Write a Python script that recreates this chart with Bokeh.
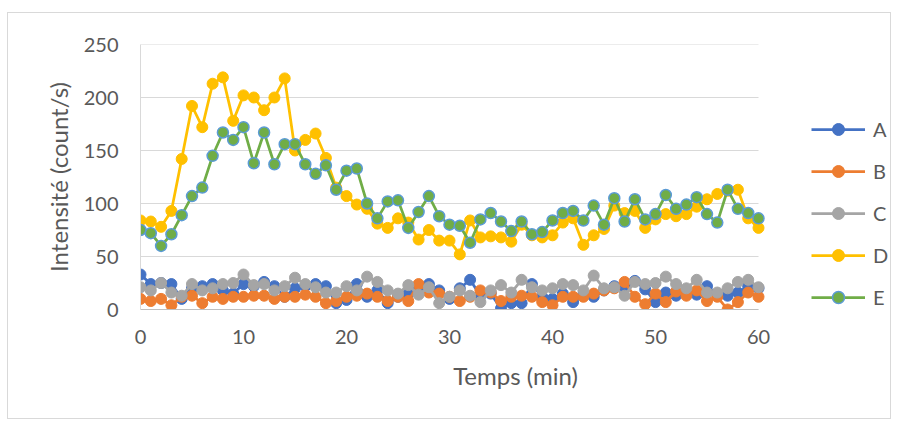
from bokeh.plotting import figure
from bokeh.models import Range1d, Legend, LegendItem, FixedTicker
from bokeh.embed import file_html
from bokeh.resources import INLINE

minutes = list(range(0, 61))

A = [33, 24, 25, 24, 10, 20, 22, 24, 18, 15, 24, 22, 26, 22, 12, 20, 22, 24, 22, 6,
     9, 24, 12, 18, 6, 12, 15, 20, 24, 18, 10, 20, 28, 13, 15, 1, 6, 6, 24, 12,
     10, 15, 7, 14, 12, 18, 22, 20, 27, 19, 7, 16, 13, 15, 14, 22, 14, 13, 16, 22, 20]
B = [10, 8, 10, 4, 12, 13, 6, 12, 10, 12, 12, 13, 13, 10, 12, 12, 14, 12, 6, 8,
     12, 13, 15, 12, 8, 12, 8, 24, 16, 15, 12, 8, 12, 18, 16, 8, 12, 13, 12, 7,
     4, 12, 12, 12, 15, 18, 20, 26, 12, 5, 15, 7, 17, 13, 18, 8, 12, 0, 7, 16, 12]
C = [21, 18, 25, 16, 13, 24, 18, 20, 24, 25, 33, 23, 24, 18, 22, 30, 24, 21, 16, 16,
     22, 18, 31, 26, 18, 15, 23, 14, 21, 6, 12, 18, 13, 7, 18, 23, 16, 28, 21, 18,
     20, 24, 23, 18, 32, 20, 21, 13, 26, 24, 25, 31, 24, 20, 28, 16, 16, 20, 26, 28, 21]
D = [84, 83, 78, 93, 142, 192, 172, 213, 219, 178, 202, 200, 188, 200, 218, 150, 160, 166, 143, 115,
     107, 99, 95, 81, 77, 86, 82, 66, 75, 65, 65, 52, 84, 68, 69, 68, 64, 80, 70, 68,
     70, 82, 86, 61, 70, 76, 98, 91, 93, 77, 85, 90, 88, 90, 97, 104, 109, 112, 113, 86, 77]
E = [75, 72, 60, 71, 89, 107, 115, 145, 167, 160, 172, 138, 167, 137, 156, 156, 137, 128, 136, 113,
     131, 133, 100, 86, 102, 103, 77, 92, 107, 88, 80, 79, 63, 85, 91, 83, 74, 83, 71, 73,
     84, 91, 93, 84, 98, 80, 105, 83, 104, 85, 90, 108, 95, 99, 106, 90, 82, 113, 95, 91, 86]

series_names = ["A", "B", "C", "D", "E"]
series_values = [A, B, C, D, E]
line_colors = ["#4472C4", "#ED7D31", "#A5A5A5", "#FFC000", "#70AD47"]
marker_lines = ["#4472C4", "#ED7D31", "#A5A5A5", "#FFC000", "#5B9BD5"]

x_ticks = [0, 10, 20, 30, 40, 50, 60]
y_ticks = [0, 50, 100, 150, 200, 250]

FONT = "Lato"
TXT = "#595959"

# frame extends to the right to host the legend; plot area itself spans 0..60
x_end = 60 * 750 / 618.0

p = figure(width=882, height=405, output_backend="svg", toolbar_location=None,
           x_range=Range1d(0, x_end), y_range=Range1d(0, 250),
           min_border_left=132, min_border_right=0, min_border_top=31, min_border_bottom=109,
           margin=(13, 7, 3, 8))
p.styles = {"outline": "1px solid #D9D9D9"}
p.outline_line_color = None
p.background_fill_color = "white"
p.border_fill_color = "white"

p.xgrid.visible = False
p.ygrid.visible = False
p.segment(x0=[x_ticks[0]] * len(y_ticks), x1=[x_ticks[-1]] * len(y_ticks),
          y0=y_ticks, y1=y_ticks, line_color="#D9D9D9", line_width=1)

p.xaxis.ticker = FixedTicker(ticks=x_ticks)
p.yaxis.ticker = FixedTicker(ticks=y_ticks)
p.xaxis.bounds = (x_ticks[0], x_ticks[-1])
for ax in (p.xaxis[0], p.yaxis[0]):
    ax.major_tick_line_color = None
    ax.minor_tick_line_color = None
    ax.major_tick_out = 0
    ax.major_tick_in = 0
    ax.major_label_text_font = FONT
    ax.major_label_text_font_size = "20px"
    ax.major_label_text_color = TXT
    ax.axis_label_text_font = FONT
    ax.axis_label_text_font_size = "24px"
    ax.axis_label_text_font_style = "normal"
    ax.axis_label_text_color = TXT
p.xaxis.axis_line_color = "#BFBFBF"
p.yaxis.axis_line_color = "#D9D9D9"
p.xaxis.axis_label = "Temps (min)"
p.yaxis.axis_label = "Intensité (count/s)"
p.xaxis.major_label_standoff = 20
p.yaxis.major_label_standoff = 22
p.xaxis.axis_label_standoff = 14
p.yaxis.axis_label_standoff = 8

items = []
for name, vals, lc, mc in zip(series_names, series_values, line_colors, marker_lines):
    r1 = p.line(minutes, vals, line_color=lc, line_width=2.75)
    r2 = p.scatter(minutes, vals, size=11, fill_color=lc, line_color=mc,
                   line_width=1.5 if name == "E" else 1)
    items.append(LegendItem(label=name, renderers=[r1, r2]))

legend = Legend(items=items, location=(671, -3))
legend.glyph_width = 54
legend.glyph_height = 30
legend.label_height = 30
legend.spacing = 12
legend.padding = 0
legend.margin = 0
legend.label_standoff = 8
legend.label_text_font = FONT
legend.label_text_font_size = "20px"
legend.label_text_color = TXT
legend.border_line_color = None
legend.background_fill_alpha = 0
p.add_layout(legend, "center")

open("out.html", "w").write(file_html(p, INLINE))
